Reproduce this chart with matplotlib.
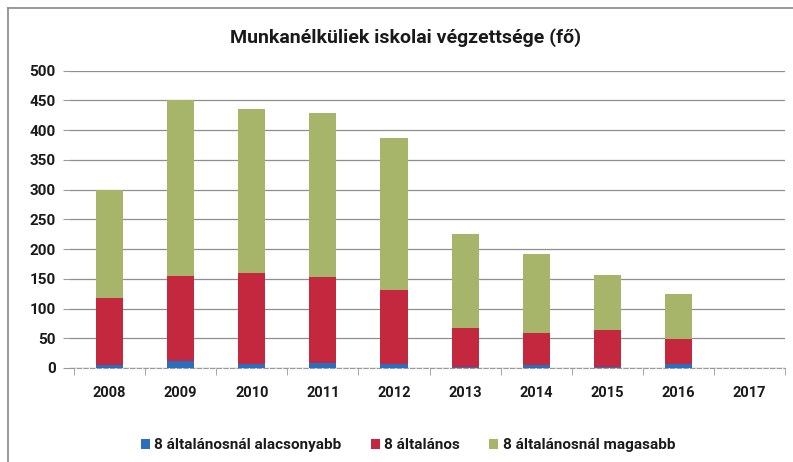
import matplotlib.pyplot as plt
import numpy as np

years = ["2008", "2009", "2010", "2011", "2012", "2013", "2014", "2015", "2016", "2017"]
lower = [5, 11, 7, 8, 7, 2, 5, 2, 6, 0]
primary = [113, 144, 153, 145, 124, 66, 53, 62, 42, 0]
higher = [181, 295, 275, 276, 256, 157, 134, 93, 76, 0]
labels = ["8 általánosnál alacsonyabb", "8 általános", "8 általánosnál magasabb"]
colors = ["#2a6fbf", "#c4283f", "#a7b56b"]

plt.rcParams['font.family'] = ['Roboto', 'DejaVu Sans']

fig = plt.figure(figsize=(7.93, 4.62), dpi=100)
ax = fig.add_axes([0.088, 0.2035, 0.902, 0.6435])

x = np.arange(len(years))
w = 0.38
bottom = np.zeros(len(years))
for vals, lab, col in zip([lower, primary, higher], labels, colors):
    ax.bar(x, vals, w, bottom=bottom, color=col, label=lab, zorder=3)
    bottom += np.array(vals)

ax.set_xlim(-0.56, 9.5)
ax.set_ylim(0, 500)
ax.set_yticks(range(0, 501, 50))
ax.set_xticks(x)
ax.set_xticklabels(years, fontsize=10.5, fontweight='bold', color='#1a1a1a')
ax.set_xticks(np.arange(-0.5, 9.6, 1), minor=True)
ax.tick_params(axis='x', which='major', length=0, pad=13)
ax.tick_params(axis='x', which='minor', length=5, color='#999999')
ax.tick_params(axis='y', length=5, color='#999999', labelsize=11, pad=5)
for t in ax.get_yticklabels():
    t.set_fontweight('bold')
    t.set_color('#1a1a1a')

ax.grid(axis='y', color='#8f8f8f', linewidth=0.9, zorder=0)
for s in ['top', 'right', 'left']:
    ax.spines[s].set_visible(False)
ax.spines['bottom'].set_color('#999999')
ax.spines['bottom'].set_linestyle((0, (4, 2)))

ax.set_title("Munkanélküliek iskolai végzettsége (fő)", fontsize=14, x=0.47,
             fontweight='bold', color='#1a1a1a', pad=20)

leg = ax.legend(loc='upper center', bbox_to_anchor=(0.473, -0.19), ncol=3, frameon=False,
                fontsize=11, handlelength=0.6, handleheight=0.6, handletextpad=0.3,
                columnspacing=1.9)
for t in leg.get_texts():
    t.set_fontweight('bold')
    t.set_color('#1a1a1a')

# frame of the chart on the scanned page
fig.add_artist(plt.Line2D([0.01, 0.01], [0.0, 0.983], color='#888888', lw=1.2))
fig.add_artist(plt.Line2D([0.01, 1.0], [0.983, 0.983], color='#888888', lw=1.2))

fig.savefig("out.png", dpi=100)
